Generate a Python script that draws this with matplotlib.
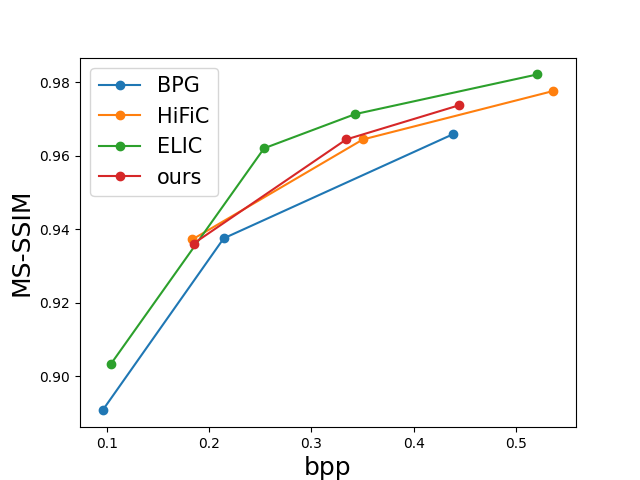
import matplotlib
matplotlib.use("Agg")
import matplotlib.pyplot as plt

bpg_x = [0.0958, 0.2143, 0.4383]
bpg_y = [0.8907, 0.9375, 0.9658]
hific_x = [0.1836, 0.3504, 0.5368]
hific_y = [0.9372, 0.9644, 0.9776]
elic_x = [0.1039, 0.2538, 0.3429, 0.5211]
elic_y = [0.9033, 0.9620, 0.9713, 0.9821]
ours_x = [0.1849, 0.3341, 0.4445]
ours_y = [0.9361, 0.9644, 0.9737]

fig, ax = plt.subplots(figsize=(6.4, 4.8), dpi=100)
ax.plot(bpg_x, bpg_y, 'o-', label='BPG')
ax.plot(hific_x, hific_y, 'o-', label='HiFiC')
ax.plot(elic_x, elic_y, 'o-', label='ELIC')
ax.plot(ours_x, ours_y, 'o-', label='ours')
ax.set_xlabel('bpp', fontsize=18)
ax.set_ylabel('MS-SSIM', fontsize=18)
ax.legend(fontsize=15)
fig.savefig('out.png')
